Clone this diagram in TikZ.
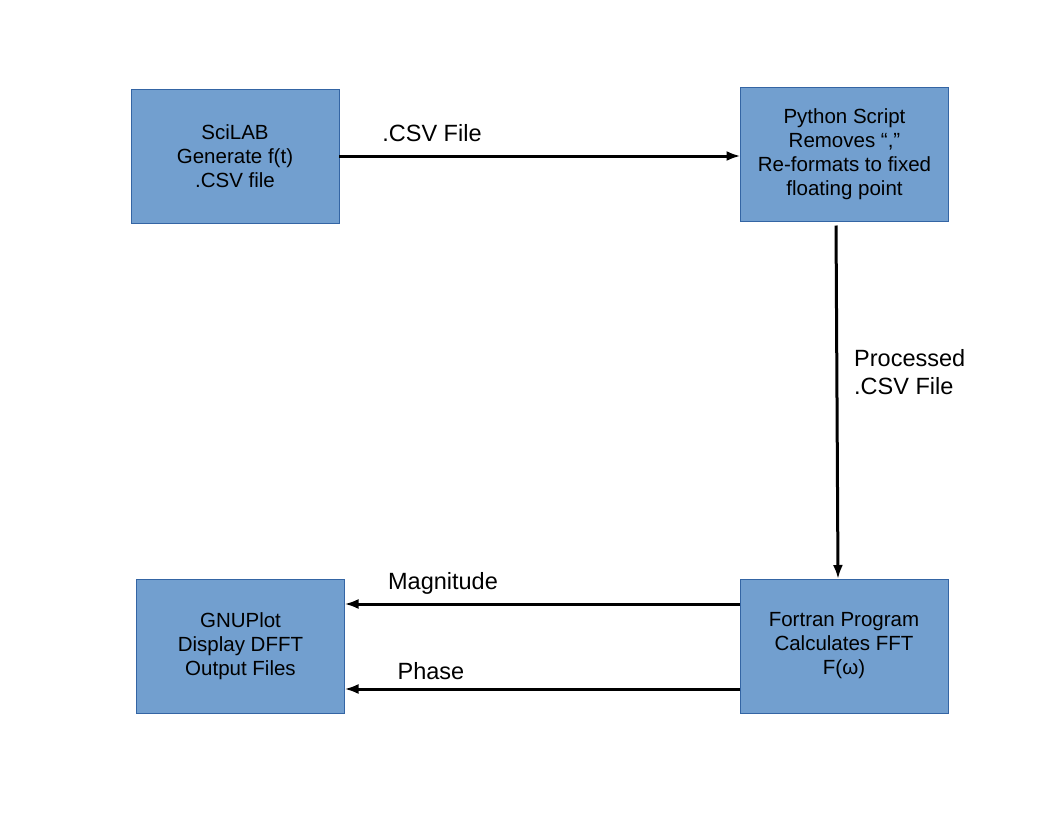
\documentclass[tikz,border=0pt]{standalone}
\usepackage{fontspec}
\setmainfont{Liberation Sans}
\usetikzlibrary{arrows.meta}
\definecolor{boxfill}{HTML}{729FCF}
\definecolor{boxline}{HTML}{3465A4}

\begin{document}
\begin{tikzpicture}[x=1pt,y=-1pt]
  \tikzset{BoxStyle/.style = {
    shape         = rectangle,
    draw          = boxline,
    fill          = boxfill,
    line width    = 0.8pt,
    text          = black,
    align         = center,
    inner sep     = 0pt,
    outer sep     = 0pt,
    minimum width = 208pt,
    minimum height= 134pt,
    font          = \fontsize{20.5}{24}\selectfont
    }
  }
  \tikzset{ArrowStyle/.style = {
    draw          = black,
    line width    = 3pt,
    -{Latex[length=14pt,width=10pt]}
    }
  }
  \tikzset{LabelStyle/.style = {
    text          = black,
    inner sep     = 0pt,
    font          = \fontsize{23.5}{28}\selectfont
    }
  }

  \useasboundingbox (0,0) rectangle (1056,816);

  \node[BoxStyle](A1) at (235, 156) {SciLAB\\Generate f(t)\\.CSV file};
  \node[BoxStyle](B1) at (844.5, 154.5) {Python Script\\Removes “,”\\Re-formats to fixed\\floating point};
  \node[BoxStyle](C1) at (844, 646) {Fortran Program\\Calculates FFT\\F(ω)};
  \node[BoxStyle](D1) at (240.5, 646.5) {GNUPlot\\Display DFFT\\Output Files};

  \node[LabelStyle](L1) at (432, 133) {.CSV File};
  \node[LabelStyle, anchor=west, align=left](L2) at (854, 372) {Processed\\.CSV File};
  \node[LabelStyle](L3) at (443, 583) {Magnitude};
  \node[LabelStyle](L4) at (431, 671) {Phase};

  \draw[ArrowStyle](A1.east) -- (A1.east -| B1.west);
  \draw[ArrowStyle, shorten <=4pt]([xshift=-8.5pt]B1.south) -- ([xshift=-6pt]C1.north);
  \draw[ArrowStyle]([yshift=42pt]C1.west) -- ([yshift=42pt]C1.west -| D1.east);
  \draw[ArrowStyle]([yshift=-43pt]C1.west) -- ([yshift=-43pt]C1.west -| D1.east);

\end{tikzpicture}
\end{document}
